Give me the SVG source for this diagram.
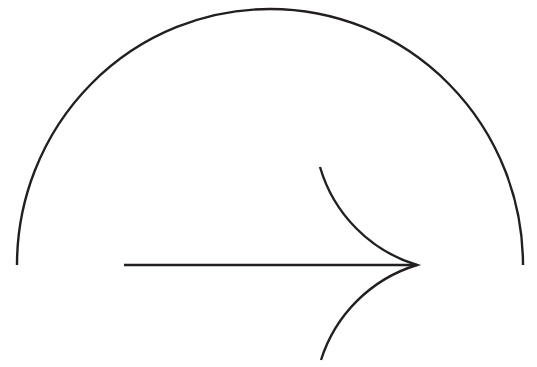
<svg xmlns="http://www.w3.org/2000/svg" width="537" height="367" viewBox="0 0 537 367">
<style>.s{fill:none;stroke:#231f20;stroke-width:2.4;stroke-linecap:butt}</style>
<rect width="537" height="367" fill="#fff"/>
<path class="s" d="M17,265 A253,256 0 0 1 523,265"/>
<g id="arrow">
<path class="s" d="M124,265 L417,265"/>
<path class="s" d="M320,167 A145,145 0 0 0 417,265 A145,145 0 0 0 321,360"/>
</g>
</svg>
